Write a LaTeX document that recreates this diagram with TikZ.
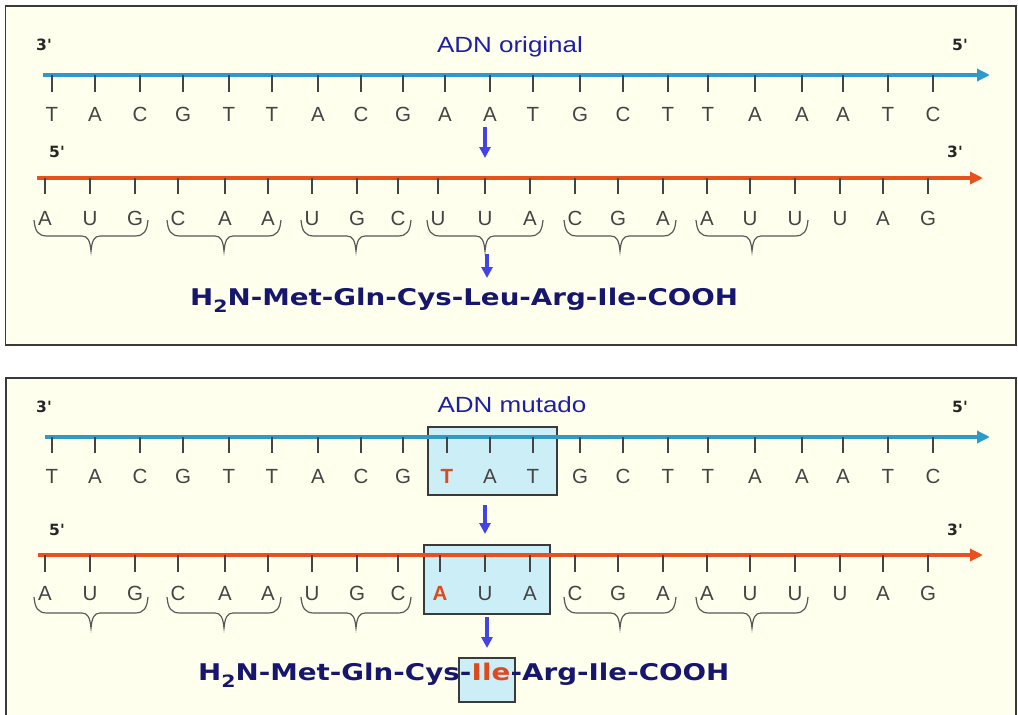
\documentclass[tikz,border=0pt]{standalone}
\usepackage{fontspec}
\usepackage{graphicx}
\usetikzlibrary{arrows.meta}
\setmainfont{Liberation Sans}
\newfontfamily\pepfont{DejaVu Sans}[Ligatures=TeXOff]

\definecolor{panelbg}{HTML}{FFFFEE}
\definecolor{panelrule}{HTML}{3A3A3A}
\definecolor{sensecol}{HTML}{2E9AC8}
\definecolor{rnacol}{HTML}{E8501E}
\definecolor{ptrblue}{HTML}{4444E4}
\definecolor{titleblue}{HTML}{1E1EA8}
\definecolor{pepblue}{HTML}{16166E}
\definecolor{mutred}{HTML}{DC4A1E}
\definecolor{hlfill}{HTML}{CCEEF7}
\definecolor{basegray}{HTML}{444444}

\newsavebox\pepmeasure
\newsavebox\ttlmeasure
\newcommand\pepstyle{\pepfont\bfseries\fontsize{23}{23}\selectfont}
\newcommand\ttlstyle{\fontsize{22}{22}\selectfont}
\newcommand\hsub{\raisebox{-7pt}{\fontsize{17}{17}\selectfont 2}}

% horizontal stretch factors for the title and the peptide
\AtBeginDocument{%
  \sbox\pepmeasure{\pepstyle H\hsub N-Met-Gln-Cys-Leu-Arg-Ile-COOH}%
  \pgfmathsetmacro\pepx{548/\the\wd\pepmeasure}%
  \global\let\pepx\pepx
  \sbox\ttlmeasure{\ttlstyle ADN original}%
  \pgfmathsetmacro\ttlx{146/\the\wd\ttlmeasure}%
  \global\let\ttlx\ttlx}

% curly brace under one codon: left x, right x, top y
\newcommand\codonbrace[3]{%
  \pgfmathsetmacro\bmid{(#1+#2)/2}%
  \draw[bracestyle] (#1,#3) .. controls (#1+1,#3+11) and (#1+4,#3+16) .. (#1+13,#3+16)
    -- (\bmid-9,#3+16) .. controls (\bmid-3,#3+16) and (\bmid-1,#3+21) .. (\bmid,#3+31)
    .. controls (\bmid+1,#3+21) and (\bmid+3,#3+16) .. (\bmid+9,#3+16)
    -- (#2-13,#3+16) .. controls (#2-4,#3+16) and (#2-1,#3+11) .. (#2,#3);}

\tikzset{
  panel/.style={draw=panelrule, line width=1.5pt, fill=panelbg},
  hlbox/.style={draw=panelrule, line width=1.4pt, fill=hlfill},
  dnastrand/.style={sensecol, line width=4pt, -{Triangle[length=13pt,width=12pt]}},
  rnastrand/.style={rnacol, line width=4pt, -{Triangle[length=13pt,width=12pt]}},
  basetick/.style={draw=basegray, line width=1.3pt},
  nucl/.style={font=\fontsize{20.5}{20.5}\selectfont, anchor=base, inner sep=0pt},
  plainbase/.style={text=basegray},
  mutbase/.style={text=mutred, font=\bfseries\fontsize{20.5}{20.5}\selectfont},
  endlab/.style={font=\pepfont\bfseries\fontsize{15.5}{15.5}\selectfont, text=black!85, anchor=base, inner sep=0pt},
  ttl/.style={font=\ttlstyle, text=titleblue, anchor=base, inner sep=0pt},
  pep/.style={font=\pepstyle, text=pepblue, anchor=base west, inner sep=0pt},
  downarrow/.style={ptrblue, line width=3.2pt, -{Triangle[length=11pt,width=11pt]}},
  bracestyle/.style={draw=black!65, line width=1.2pt},
}

\begin{document}
\begin{tikzpicture}[x=1pt,y=-1pt]
  \fill[white] (0,0) rectangle (1018,715);
  \useasboundingbox (0,0) rectangle (1018,715);

  % ================= original DNA =================
  \draw[panel] (5.5,6) rectangle (1016,345);
  \node[endlab] (o3a) at (44,50) {3'};
  \node[ttl] (otitle) at (510,52) {\scalebox{\ttlx}[1]{ADN original}};
  \node[endlab] (o5a) at (960,50) {5'};

  \coordinate (odna0) at (43,75);
  \coordinate (odna1) at (990,75);
  \draw[dnastrand] (odna0) -- (odna1);
  \foreach \x/\b [count=\i] in {52/T,95/A,140/C,183/G,229/T,272/T,318/A,361/C,403/G,445/A,490/A,533/T,580/G,623/C,668/T,708/T,755/A,802/A,843/A,888/T,933/C}{
    \draw[basetick] (\x,75) -- (\x,92);
    \node[nucl, plainbase] (od\i) at (\x,121) {\b};
  }

  \coordinate (oa1s) at (485,127);
  \coordinate (oa1e) at (485,158);
  \draw[downarrow] (oa1s) -- (oa1e);

  \node[endlab] (o5b) at (57,157) {5'};
  \node[endlab] (o3b) at (955,157) {3'};

  \coordinate (orna0) at (37,178);
  \coordinate (orna1) at (983,178);
  \draw[rnastrand] (orna0) -- (orna1);
  \foreach \x/\b [count=\i] in {45/A,90/U,135/G,178/C,225/A,268/A,312/U,357/G,398/C,438/U,485/U,530/A,575/C,618/G,663/A,707/A,750/U,795/U,840/U,883/A,928/G}{
    \draw[basetick] (\x,178) -- (\x,194);
    \node[nucl, plainbase] (or\i) at (\x,225) {\b};
  }
  \foreach \p/\q in {45/135,178/268,312/398,438/530,575/663,707/795}{
    \codonbrace{\p-11}{\q+13}{220}
  }

  \coordinate (oa2s) at (487,254);
  \coordinate (oa2e) at (487,278);
  \draw[downarrow] (oa2s) -- (oa2e);

  \node[pep] (opep) at (190,305) {\scalebox{\pepx}[1]{H\hsub N-Met-Gln-Cys-Leu-Arg-Ile-COOH}};

  % ================= mutated DNA =================
  \draw[panel] (6,378) rectangle (1016,722);
  \node[endlab] (m3a) at (44,412) {3'};
  \node[ttl] (mtitle) at (512,412) {\scalebox{\ttlx}[1]{ADN mutado}};
  \node[endlab] (m5a) at (960,412) {5'};

  \draw[hlbox] (428,427) rectangle (557,495);
  \draw[hlbox] (424,545) rectangle (550,614);

  \coordinate (mdna0) at (45,437);
  \coordinate (mdna1) at (990,437);
  \draw[dnastrand] (mdna0) -- (mdna1);
  \foreach \x/\b/\c [count=\i] in {52/T/plainbase,95/A/plainbase,140/C/plainbase,183/G/plainbase,229/T/plainbase,272/T/plainbase,318/A/plainbase,361/C/plainbase,403/G/plainbase,447/T/mutbase,490/A/plainbase,533/T/plainbase,580/G/plainbase,623/C/plainbase,668/T/plainbase,708/T/plainbase,755/A/plainbase,802/A/plainbase,843/A/plainbase,888/T/plainbase,933/C/plainbase}{
    \draw[basetick] (\x,437) -- (\x,453);
    \node[nucl, \c] (md\i) at (\x,483) {\b};
  }

  \coordinate (ma1s) at (485,505);
  \coordinate (ma1e) at (485,534);
  \draw[downarrow] (ma1s) -- (ma1e);

  \node[endlab] (m5b) at (57,535) {5'};
  \node[endlab] (m3b) at (955,535) {3'};

  \coordinate (mrna0) at (38,555);
  \coordinate (mrna1) at (983,555);
  \draw[rnastrand] (mrna0) -- (mrna1);
  \foreach \x/\b/\c [count=\i] in {45/A/plainbase,90/U/plainbase,135/G/plainbase,178/C/plainbase,225/A/plainbase,268/A/plainbase,312/U/plainbase,357/G/plainbase,398/C/plainbase,440/A/mutbase,485/U/plainbase,530/A/plainbase,575/C/plainbase,618/G/plainbase,663/A/plainbase,707/A/plainbase,750/U/plainbase,795/U/plainbase,840/U/plainbase,883/A/plainbase,928/G/plainbase}{
    \draw[basetick] (\x,555) -- (\x,572);
    \node[nucl, \c] (mr\i) at (\x,600) {\b};
  }
  \foreach \p/\q in {45/135,178/268,312/398,575/663,707/795}{
    \codonbrace{\p-11}{\q+13}{597}
  }

  \coordinate (ma2s) at (487,617);
  \coordinate (ma2e) at (487,648);
  \draw[downarrow] (ma2s) -- (ma2e);

  \draw[hlbox] (459,658) rectangle (515,702);
  \node[pep] (mpep1) at (198,680) {\scalebox{\pepx}[1]{H\hsub N-Met-Gln-Cys-}};
  \node[pep, text=mutred] (mpep2) at (mpep1.base east) {\scalebox{\pepx}[1]{Ile}};
  \node[pep] (mpep3) at (mpep2.base east) {\scalebox{\pepx}[1]{-Arg-Ile-COOH}};
\end{tikzpicture}
\end{document}
